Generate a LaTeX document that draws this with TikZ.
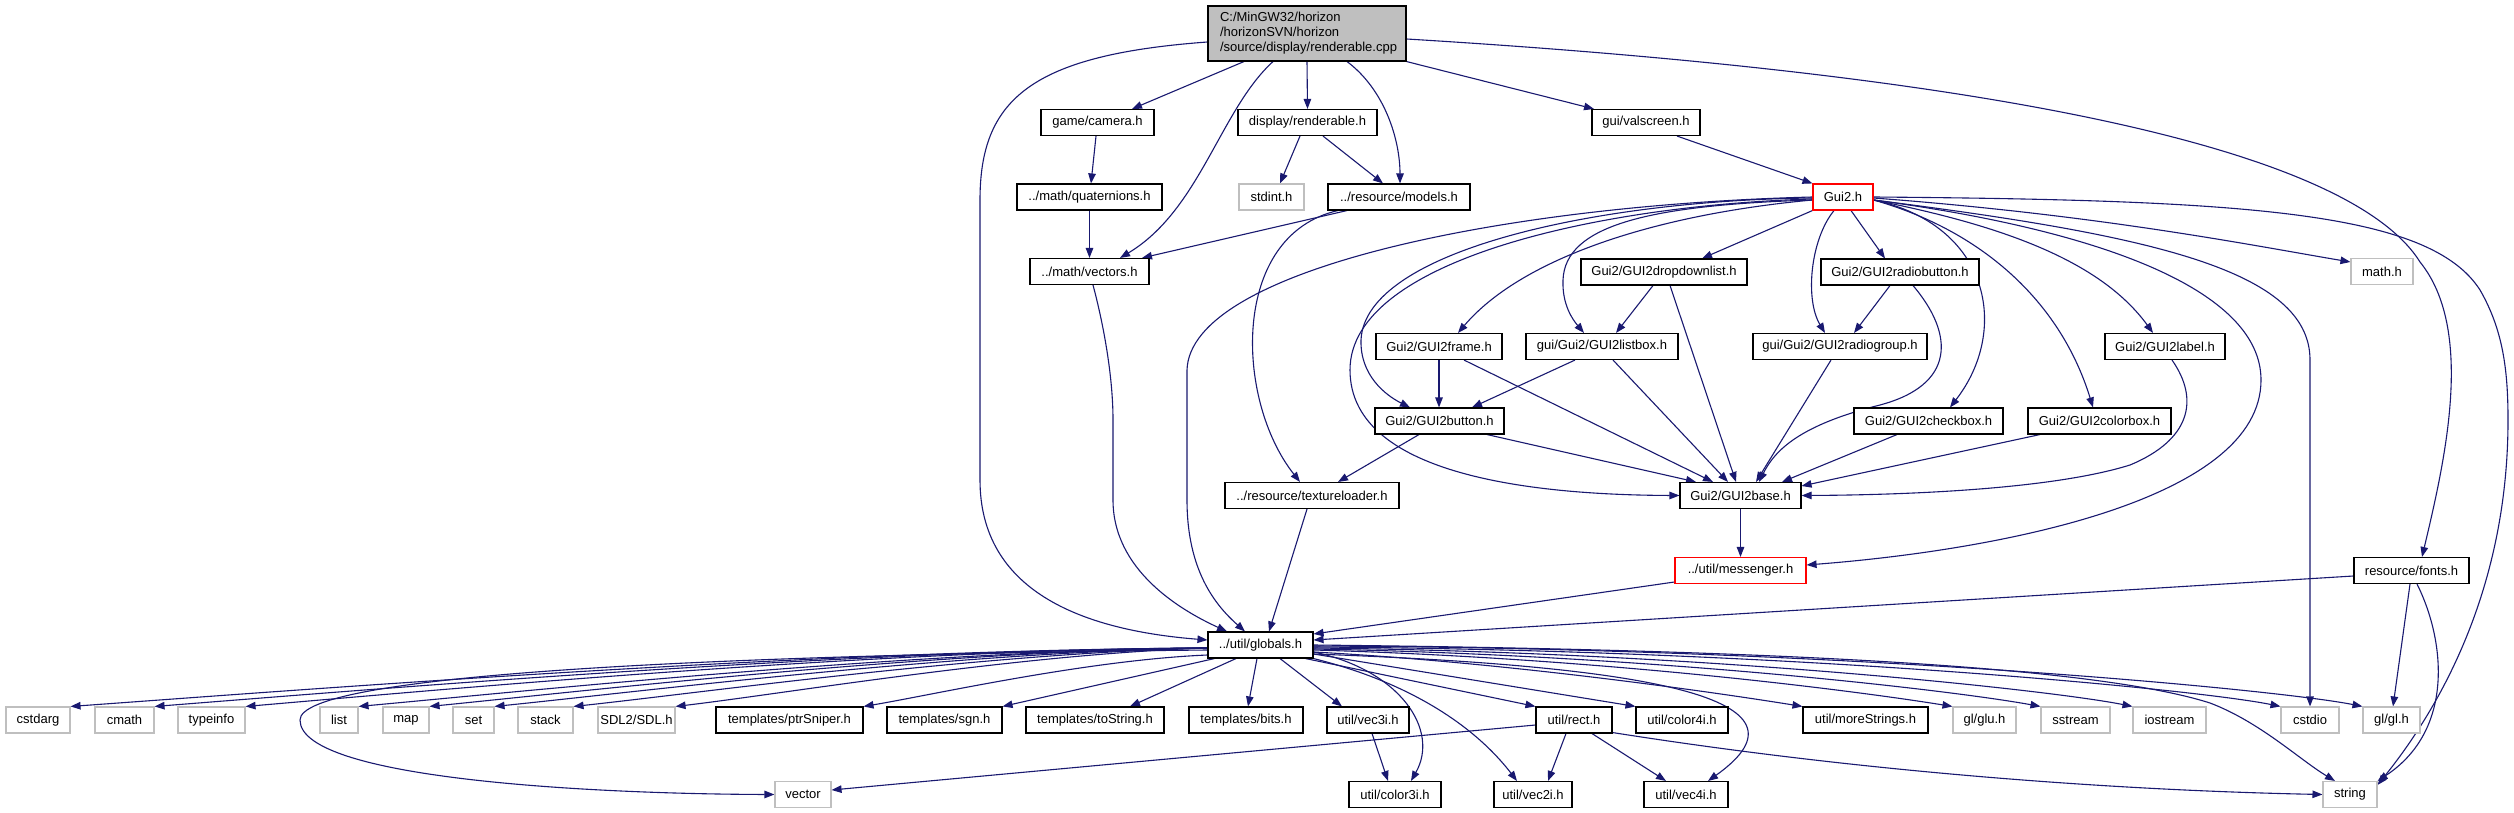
\documentclass[tikz,border=0pt]{standalone}
\usepackage{fontspec}
\setmainfont{Liberation Sans}
\usetikzlibrary{arrows.meta}
\definecolor{edgeblue}{HTML}{191970}
\definecolor{lgray}{HTML}{BFBFBF}
\definecolor{rootfill}{HTML}{BFBFBF}
\pgfdeclarelayer{bg}
\pgfsetlayers{bg,main}
\tikzset{
  box/.style={draw=black, line width=1.1pt, fill=white, minimum height=26pt, inner sep=0pt, font=\fontsize{13}{15}\selectfont},
  gbox/.style={box, draw=lgray},
  rbox/.style={box, draw=red},
  edge/.style={draw=edgeblue, line width=1.1pt, -{Triangle[length=10pt,width=7.5pt]}}
}
\begin{document}
\begin{tikzpicture}[x=1pt,y=-1pt]
\useasboundingbox (0,0) rectangle (2514,813);
% nodes
\node[box, minimum width=198pt, minimum height=55pt, fill=rootfill, align=left, text width=174pt, inner xsep=12pt] (root) at (1307,33.5) {C:/MinGW32/horizon\\/horizonSVN/horizon\\/source/display/renderable.cpp};
\node[box, minimum width=113pt] (camera) at (1097.5,122.5) {game/camera.h};
\node[box, minimum width=139pt] (renderable) at (1307.5,122.5) {display/renderable.h};
\node[box, minimum width=108pt] (valscreen) at (1646,122.5) {gui/valscreen.h};
\node[box, minimum width=145pt] (quaternions) at (1089.5,197) {../math/quaternions.h};
\node[gbox, minimum width=65pt] (stdint) at (1271.5,197) {stdint.h};
\node[box, minimum width=142pt] (models) at (1399,197) {../resource/models.h};
\node[rbox, minimum width=60pt] (gui2) at (1843,197) {Gui2.h};
\node[box, minimum width=119pt] (vectors) at (1089.5,271.5) {../math/vectors.h};
\node[box, minimum width=166pt] (dropdown) at (1664,272) {Gui2/GUI2dropdownlist.h};
\node[box, minimum width=158pt] (radiobutton) at (1900,272) {Gui2/GUI2radiobutton.h};
\node[gbox, minimum width=62pt] (mathh) at (2382,271.5) {math.h};
\node[box, minimum width=126pt] (frame) at (1439,346.5) {Gui2/GUI2frame.h};
\node[box, minimum width=152pt] (listbox) at (1602,346.5) {gui/Gui2/GUI2listbox.h};
\node[box, minimum width=174pt] (radiogroup) at (1840,346.5) {gui/Gui2/GUI2radiogroup.h};
\node[box, minimum width=120pt] (label) at (2165,346.5) {Gui2/GUI2label.h};
\node[box, minimum width=129pt] (button) at (1439.5,421) {Gui2/GUI2button.h};
\node[box, minimum width=149pt] (checkbox) at (1928.5,421) {Gui2/GUI2checkbox.h};
\node[box, minimum width=143pt] (colorbox) at (2099.5,421) {Gui2/GUI2colorbox.h};
\node[box, minimum width=174pt] (texture) at (1312,495.5) {../resource/textureloader.h};
\node[box, minimum width=121pt] (base) at (1740.5,495.5) {Gui2/GUI2base.h};
\node[rbox, minimum width=131pt] (messenger) at (1740.5,570.5) {../util/messenger.h};
\node[box, minimum width=115pt] (fonts) at (2411.5,570.5) {resource/fonts.h};
\node[box, minimum width=105pt] (globals) at (1260.5,645) {../util/globals.h};
% row 9
\node[gbox, minimum width=64pt] (cstdarg) at (38,720) {cstdarg};
\node[gbox, minimum width=59pt] (cmath) at (124.5,720) {cmath};
\node[gbox, minimum width=67pt] (typeinfo) at (211.5,720) {typeinfo};
\node[gbox, minimum width=38pt] (list) at (339,720) {list};
\node[gbox, minimum width=46pt] (map) at (406,720) {map};
\node[gbox, minimum width=41pt] (set) at (473.5,720) {set};
\node[gbox, minimum width=55pt] (stack) at (545.5,720) {stack};
\node[gbox, minimum width=77pt] (sdl) at (636.5,720) {SDL2/SDL.h};
\node[box, minimum width=147pt] (ptrsniper) at (789.5,720) {templates/ptrSniper.h};
\node[box, minimum width=115pt] (sgn) at (944.5,720) {templates/sgn.h};
\node[box, minimum width=138pt] (tostring) at (1095,720) {templates/toString.h};
\node[box, minimum width=114pt] (bits) at (1246,720) {templates/bits.h};
\node[box, minimum width=82pt] (vec3i) at (1368,720) {util/vec3i.h};
\node[box, minimum width=76pt] (rect) at (1574,720) {util/rect.h};
\node[box, minimum width=92pt] (color4i) at (1682,720) {util/color4i.h};
\node[box, minimum width=125pt] (morestrings) at (1865.5,720) {util/moreStrings.h};
\node[gbox, minimum width=63pt] (glu) at (1984.5,720) {gl/glu.h};
\node[gbox, minimum width=69pt] (sstream) at (2075.5,720) {sstream};
\node[gbox, minimum width=73pt] (iostream) at (2169.5,720) {iostream};
\node[gbox, minimum width=58pt] (cstdio) at (2310,720) {cstdio};
\node[gbox, minimum width=57pt] (gl) at (2391.5,720) {gl/gl.h};
% row 10
\node[gbox, minimum width=56pt] (vector) at (803,794.5) {vector};
\node[box, minimum width=92pt] (color3i) at (1395,794.5) {util/color3i.h};
\node[box, minimum width=78pt] (vec2i) at (1533,794.5) {util/vec2i.h};
\node[box, minimum width=84pt] (vec4i) at (1686,794.5) {util/vec4i.h};
\node[gbox, minimum width=54pt] (string) at (2350,794.5) {string};

\begin{pgfonlayer}{bg}
\fill[white] (0,0) rectangle (2514,813);
% root
\draw[edge] ([xshift=-63]root.south) -- ([xshift=34.5]camera.north);
\draw[edge] ([xshift=-34]root.south) .. controls (1220,110) and (1200,210) .. ([xshift=30.5]vectors.north);
\draw[edge] (root.south) -- (renderable.north);
\draw[edge] ([xshift=40]root.south) .. controls (1385,90) and (1400,140) .. ([xshift=1]models.north);
\draw[edge] (root.south east) -- ([xshift=-52]valscreen.north);
\draw[edge] ([yshift=-5.5]root.east) .. controls (2000,75) and (2350,150) .. (2420,262) .. controls (2475,330) and (2445,460) .. ([xshift=10.5]fonts.north);
\draw[edge] ([yshift=-8.5]root.west) .. controls (1030,55) and (980,100) .. (980,200) -- (980,480) .. controls (980,590) and (1080,630) .. ([yshift=5]globals.west);
% level 1-2
\draw[edge] ([xshift=-1.5]camera.south) -- ([xshift=1.5]quaternions.north);
\draw[edge] (quaternions.south) -- (vectors.north);
\draw[edge] ([xshift=-7.5]renderable.south) -- ([xshift=8.5]stdint.north);
\draw[edge] ([xshift=15.5]renderable.south) -- ([xshift=-16]models.north);
\draw[edge] ([xshift=-52]models.south) -- ([xshift=52.5]vectors.north);
\draw[edge] ([xshift=-61]models.south) .. controls (1230,235) and (1235,400) .. ([xshift=-12]texture.north);
\draw[edge] ([xshift=3.5]vectors.south) .. controls (1105,330) and (1113,380) .. (1113,420) -- (1113,500) .. controls (1113,570) and (1180,610) .. ([xshift=-33.5]globals.north);
\draw[edge] ([xshift=31]valscreen.south) -- (gui2.north west);
% Gui2.h
\draw[edge] (gui2.west) .. controls (1500,205) and (1190,270) .. (1187,370) -- (1187,500) .. controls (1187,570) and (1215,605) .. ([xshift=-15.5]globals.north);
\draw[edge] ([yshift=-3]gui2.west) .. controls (1650,215) and (1520,260) .. ([xshift=19]frame.north);
\draw[edge] ([yshift=-1]gui2.west) .. controls (1600,200) and (1365,250) .. (1361,340) .. controls (1360,375) and (1385,395) .. ([xshift=-29.5]button.north);
\draw[edge] ([yshift=-2]gui2.west) .. controls (1600,205) and (1350,260) .. (1350,370) .. controls (1350,480) and (1550,495) .. (base.west);
\draw[edge] ([yshift=-3]gui2.west) .. controls (1650,205) and (1565,225) .. (1563,280) .. controls (1562,305) and (1573,320) .. ([xshift=-18]listbox.north);
\draw[edge] (gui2.south west) -- ([xshift=38]dropdown.north);
\draw[edge] ([xshift=8]gui2.south) -- ([xshift=-15]radiobutton.north);
\draw[edge] ([xshift=-9]gui2.south) .. controls (1810,240) and (1805,300) .. ([xshift=-15]radiogroup.north);
\draw[edge] ([yshift=-3]gui2.east) .. controls (1990,225) and (2010,330) .. ([xshift=21.5]checkbox.north);
\draw[edge] ([yshift=-3]gui2.east) .. controls (1980,230) and (2060,300) .. ([xshift=-6.5]colorbox.north);
\draw[edge] ([yshift=-3]gui2.east) .. controls (2000,225) and (2100,260) .. ([xshift=-12]label.north);
\draw[edge] ([yshift=-3]gui2.east) .. controls (2100,230) and (2261,290) .. (2261,380) .. controls (2261,500) and (2000,550) .. ([yshift=5.5]messenger.east);
\draw[edge] ([yshift=-3]gui2.east) .. controls (2150,235) and (2310,270) .. (2310,360) -- (cstdio.north);
\draw[edge] ([yshift=-1]gui2.east) .. controls (2100,215) and (2250,245) .. ([yshift=9.5]mathh.west);
\draw[edge] (gui2.east) .. controls (2250,200) and (2430,212) .. (2480,290) .. controls (2503,330) and (2508,370) .. (2508,420) .. controls (2508,600) and (2430,720) .. ([yshift=-4]string.north east);
% Gui2 children
\draw[edge] ([xshift=-11]dropdown.south) -- ([xshift=14]listbox.north);
\draw[edge] ([xshift=6]dropdown.south) -- ([xshift=-4.5]base.north);
\draw[edge] ([xshift=-10]radiobutton.south) -- ([xshift=14]radiogroup.north);
\draw[edge] ([xshift=13]radiobutton.south) .. controls (1955,335) and (1955,385) .. (1880,405) .. controls (1800,425) and (1775,450) .. ([xshift=18.5]base.north);
\draw[edge] (frame.south) -- ([xshift=-0.5]button.north);
\draw[edge] ([xshift=25]frame.south) -- ([xshift=-27.5]base.north);
\draw[edge] ([xshift=-27]listbox.south) -- ([xshift=32.5]button.north);
\draw[edge] ([xshift=11]listbox.south) -- ([xshift=-12.5]base.north);
\draw[edge] ([xshift=-9]radiogroup.south) -- ([xshift=15.5]base.north);
\draw[edge] ([xshift=7]label.south) .. controls (2200,400) and (2190,440) .. (2130,465) .. controls (2050,490) and (1900,495) .. (base.east);
\draw[edge] ([xshift=-20.5]button.south) -- ([xshift=26]texture.north);
\draw[edge] ([xshift=47.5]button.south) -- ([xshift=-44.5]base.north);
\draw[edge] ([xshift=-31.5]checkbox.south) -- ([xshift=41.5]base.north);
\draw[edge] ([xshift=-59.5]colorbox.south) -- ([yshift=9.5]base.east);
\draw[edge] ([xshift=-5]texture.south) -- ([xshift=8.5]globals.north);
\draw[edge] (base.south) -- (messenger.north);
\draw[edge] ([yshift=-11.5]messenger.west) -- ([yshift=11]globals.east);
\draw[edge] ([yshift=-5.5]fonts.west) -- ([yshift=5]globals.east);
\draw[edge] ([xshift=-1.5]fonts.south) -- ([xshift=1.5]gl.north);
\draw[edge] ([xshift=5.5]fonts.south) .. controls (2445,640) and (2455,730) .. (string.north east);
% globals fan, left
\draw[edge] ([yshift=-3]globals.west) .. controls (810,650) and (300,690) .. (cstdarg.north east);
\draw[edge] ([yshift=-3]globals.west) .. controls (839,650) and (365,690) .. (cmath.north east);
\draw[edge] ([yshift=-3]globals.west) .. controls (871,650) and (438,690) .. (typeinfo.north east);
\draw[edge] ([yshift=-3]globals.west) .. controls (910,651) and (528,691) .. (list.north east);
\draw[edge] ([yshift=-3]globals.west) .. controls (935,651) and (585,691) .. (map.north east);
\draw[edge] ([yshift=-3]globals.west) .. controls (958,652) and (637,692) .. (set.north east);
\draw[edge] ([yshift=-3]globals.west) .. controls (986,653) and (700,693) .. (stack.north east);
\draw[edge] ([yshift=-3]globals.west) .. controls (1021,654) and (782,694) .. (sdl.north east);
\draw[edge] ([yshift=-10]globals.west) .. controls (1087,660) and (932,695) .. (ptrsniper.north east);
\draw[edge] ([yshift=-5]globals.west) .. controls (700,655) and (300,675) .. (300,720) .. controls (300,780) and (600,794) .. (vector.west);
% globals fan, bottom
\draw[edge] ([xshift=7]globals.south west) -- (sgn.north east);
\draw[edge] ([xshift=-24.5]globals.south) -- ([xshift=35]tostring.north);
\draw[edge] ([xshift=-3.5]globals.south) -- ([xshift=2]bits.north);
\draw[edge] ([xshift=19.5]globals.south) -- ([xshift=-26]vec3i.north);
\draw[edge] ([xshift=-8]globals.south east) -- (rect.north west);
\draw[edge] ([yshift=-9]globals.east) -- (color4i.north west);
\draw[edge] ([yshift=-7]globals.east) .. controls (1400,670) and (1440,730) .. ([xshift=16]color3i.north);
\draw[edge] (globals.south east) .. controls (1400,680) and (1470,720) .. ([xshift=-16]vec2i.north);
\draw[edge] ([yshift=-9]globals.east) .. controls (1650,666) and (1825,698) .. ([xshift=22]vec4i.north);
% globals fan, right
\draw[edge] ([yshift=-7]globals.east) .. controls (1500,662) and (1700,690) .. (morestrings.north west);
\draw[edge] ([yshift=-5]globals.east) .. controls (1600,658) and (1850,690) .. (glu.north west);
\draw[edge] ([yshift=-4]globals.east) .. controls (1650,655) and (1950,690) .. (sstream.north west);
\draw[edge] ([yshift=-3]globals.east) .. controls (1700,652) and (2050,690) .. (iostream.north west);
\draw[edge] ([yshift=-2]globals.east) .. controls (1800,650) and (2200,690) .. (cstdio.north west);
\draw[edge] ([yshift=-1]globals.east) .. controls (1850,648) and (2280,690) .. (gl.north west);
\draw[edge] (globals.east) .. controls (1800,650) and (2100,668) .. (2210,703) .. controls (2260,722) and (2300,760) .. ([xshift=-15]string.north);
% rect, vec3i
\draw[edge] ([yshift=-5]rect.west) -- ([yshift=4.5]vector.east);
\draw[edge] ([xshift=-8]rect.south) -- ([xshift=15]vec2i.north);
\draw[edge] ([xshift=18]rect.south) -- ([xshift=-20]vec4i.north);
\draw[edge] ([yshift=1]rect.south east) .. controls (1850,770) and (2100,790) .. (string.west);
\draw[edge] ([xshift=4]vec3i.south) -- ([xshift=-7]color3i.north);
\end{pgfonlayer}
\end{tikzpicture}
\end{document}
